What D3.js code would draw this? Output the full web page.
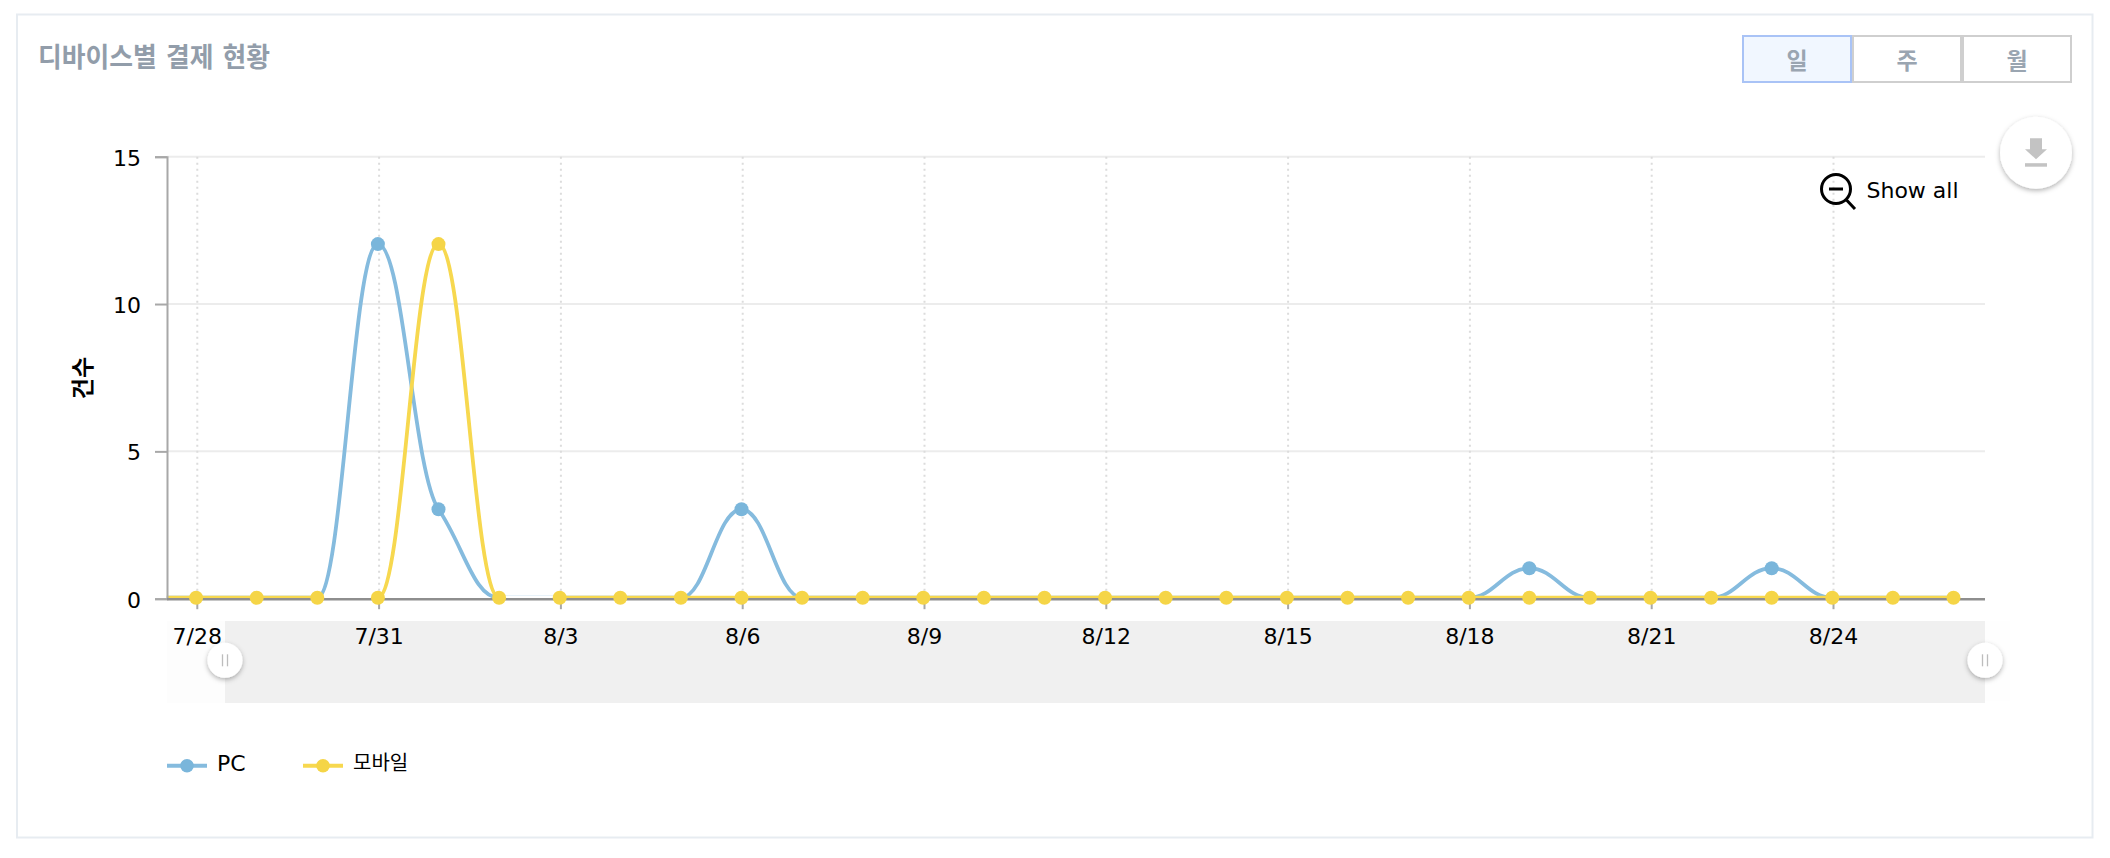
<!DOCTYPE html>
<html lang="ko">
<head>
<meta charset="utf-8">
<title>디바이스별 결제 현황</title>
<script src="https://cdn.jsdelivr.net/npm/d3@7/dist/d3.min.js"></script>
<style>
html,body{margin:0;padding:0;background:#fff;overflow:hidden}
svg{display:block;font-family:"DejaVu Sans","Noto Sans CJK KR",sans-serif}
</style>
</head>
<body>
<svg id="chart" width="2110" height="858"></svg>
<script>
// ---- data ----
const dates = ["7/28","7/29","7/30","7/31","8/1","8/2","8/3","8/4","8/5","8/6","8/7","8/8","8/9","8/10","8/11","8/12","8/13","8/14","8/15","8/16","8/17","8/18","8/19","8/20","8/21","8/22","8/23","8/24","8/25","8/26"];
const pcValues     = [0,0,0,12,3,0,0,0,0,3,0,0,0,0,0,0,0,0,0,0,0,0,1,0,0,0,1,0,0,0];
const mobileValues = [0,0,0,0,12,0,0,0,0,0,0,0,0,0,0,0,0,0,0,0,0,0,0,0,0,0,0,0,0,0];
const xTickLabels = ["7/28","7/31","8/3","8/6","8/9","8/12","8/15","8/18","8/21","8/24"];
const yTicks = [0,5,10,15];
const periodLabels = ["일","주","월"];
const seriesNames = ["PC","모바일"];
const titleText = "디바이스별 결제 현황";
const yTitle = "건수";
const showAllText = "Show all";

// ---- layout ----
const plot = {l:167,r:1985,t:156.7,b:598.7};
const blue = "#85bbde", blueDot = "#7ab6db", yellow = "#f7d84f", yellowDot = "#f5d547";
const svg = d3.select("#chart");

const x = d3.scaleBand().domain(dates).range([plot.l,plot.r]);
const xc = d => x(d)+x.bandwidth()/2;
const y = d3.scaleLinear().domain([0,15]).range([plot.b,plot.t]);

// defs
const defs = svg.append("defs");
const f1 = defs.append("filter").attr("id","sh").attr("x","-40%").attr("y","-40%").attr("width","180%").attr("height","180%");
f1.append("feDropShadow").attr("dx",0).attr("dy",2).attr("stdDeviation",2.4).attr("flood-color","#000").attr("flood-opacity",.3);

// card
svg.append("rect").attr("x",17).attr("y",14.5).attr("width",2075.5).attr("height",823)
  .attr("fill","#fff").attr("stroke","#e7ecf1").attr("stroke-width",2);

// title
svg.append("text").attr("x",38).attr("y",67).attr("font-size",27).attr("font-weight",700)
  .attr("fill","#929daa").attr("textLength",232).attr("lengthAdjust","spacingAndGlyphs").text(titleText);

// period buttons
periodLabels.forEach((p,i)=>{
  const cx = 1797+i*110, active = i===0;
  const g = svg.append("g").datum(p);
  g.append("rect").attr("x",cx-54).attr("y",36).attr("width",108).attr("height",46)
    .attr("fill",active?"#f1f7ff":"#fff").attr("stroke",active?"#a9c3f6":"#cfcfcf").attr("stroke-width",2);
  g.append("text").attr("x",cx).attr("y",69).attr("text-anchor","middle").attr("font-size",23).attr("font-weight",700)
    .attr("fill","#9aa5b1").text(p);
});

// scrollbar background
svg.append("rect").attr("x",plot.l).attr("y",621).attr("width",58).attr("height",82).attr("fill","#fdfdfd");
svg.append("rect").attr("x",plot.r).attr("y",621).attr("width",25).attr("height",80).attr("fill","#fefefe");
svg.append("rect").attr("x",225).attr("y",621).attr("width",plot.r-225).attr("height",82).attr("fill","#f0f0f0");

// gridlines
svg.append("g").selectAll("line").data(yTicks.filter(v=>v>0)).join("line")
  .attr("x1",plot.l).attr("x2",plot.r).attr("y1",y).attr("y2",y)
  .attr("stroke","#ececec").attr("stroke-width",2);
const tickDates = dates.filter(d=>xTickLabels.includes(d));
svg.append("g").selectAll("line").data(tickDates).join("line")
  .attr("x1",xc).attr("x2",xc).attr("y1",plot.t).attr("y2",plot.b)
  .attr("stroke","#dcdcdc").attr("stroke-width",2).attr("stroke-dasharray","2 4");

// smoothed line: horizontal tangent at turning points, otherwise the smaller neighbouring slope
function smoothPath(vals){
  const p = [[plot.l+1,y(vals[0])]].concat(vals.map((v,i)=>[xc(dates[i]),y(v)]));
  const sl = p.slice(0,-1).map((a,i)=>(p[i+1][1]-a[1])/(p[i+1][0]-a[0]));
  const tan = p.map((_,i)=>{
    if(i===0||i===p.length-1) return 0;
    const a=sl[i-1],b=sl[i];
    return a*b<=0?0:Math.sign(a)*Math.min(Math.abs(a),Math.abs(b));
  });
  const path = d3.path();
  path.moveTo(p[0][0],p[0][1]);
  for(let i=1;i<p.length;i++){
    const h=(p[i][0]-p[i-1][0])*0.42;
    path.bezierCurveTo(p[i-1][0]+h,p[i-1][1]+tan[i-1]*h,p[i][0]-h,p[i][1]-tan[i]*h,p[i][0],p[i][1]);
  }
  return path.toString();
}
const clipBlue = defs.append("clipPath").attr("id","clipBlue");
[["7/28","8/2",plot.t-20,plot.b+10],["8/2","8/3",plot.t-20,y(0)-2],["8/3","8/26",plot.t-20,plot.b+10]].forEach(([a,b,t,bot])=>{
  const x0 = a==="7/28"?plot.l:xc(a), x1 = xc(b);
  clipBlue.append("rect").attr("x",x0).attr("y",t).attr("width",x1-x0).attr("height",bot-t);
});
const clipYellow = defs.append("clipPath").attr("id","clipYellow");
[["7/28","7/30"],["7/31","8/2"],["8/3","8/26"]].forEach(([a,b])=>{
  const x0 = a==="7/28"?plot.l:xc(a), x1 = xc(b);
  clipYellow.append("rect").attr("x",x0).attr("y",plot.t-20).attr("width",x1-x0).attr("height",plot.b-plot.t+30);
});
const gSeries = svg.append("g").attr("transform","translate(-1.2,-1)");
gSeries.append("path").attr("d",smoothPath(pcValues)).attr("fill","none").attr("stroke",blue).attr("stroke-width",3.8).attr("clip-path","url(#clipBlue)");
gSeries.append("path").attr("d",smoothPath(mobileValues)).attr("fill","none").attr("stroke",yellow).attr("stroke-width",3.8).attr("clip-path","url(#clipYellow)");

// axes (above the lines)
const yAxis = d3.axisLeft(y).tickValues(yTicks).tickSize(12).tickPadding(14);
const gy = svg.append("g").attr("transform",`translate(${plot.l},0)`).call(yAxis).attr("font-family",null).attr("font-size",null);
gy.select(".domain").attr("stroke","#a8a8a8").attr("stroke-width",2);
gy.selectAll(".tick line").attr("stroke","#a8a8a8").attr("stroke-width",2);
gy.selectAll("text").attr("font-size",22).attr("fill","#000").attr("dy","0.38em");

const xAxis = d3.axisBottom(x).tickValues(tickDates).tickSize(10).tickPadding(19);
const gx = svg.append("g").attr("transform",`translate(0,${plot.b+0.5})`).call(xAxis).attr("font-family",null).attr("font-size",null);
gx.select(".domain").attr("stroke","#8e8e8e").attr("stroke-width",2.4).attr("d",`M${plot.l},0H${plot.r}`);
gx.selectAll(".tick line").attr("stroke","#a8a8a8").attr("stroke-width",2);
gx.selectAll("text").attr("font-size",22).attr("fill","#000").attr("dy","0.71em");

// markers on top of axis
const gDots = svg.append("g").attr("transform","translate(-1.2,-1)");
gDots.selectAll("circle.pc").data(pcValues.map((v,i)=>({v,d:dates[i]})).filter(d=>d.v>0)).join("circle").attr("class","pc")
  .attr("cx",d=>xc(d.d)).attr("cy",d=>y(d.v)).attr("r",7).attr("fill",blueDot);
gDots.selectAll("circle.mo").data(mobileValues.map((v,i)=>({v,d:dates[i]}))).join("circle").attr("class","mo")
  .attr("cx",d=>xc(d.d)).attr("cy",d=>y(d.v)).attr("r",7).attr("fill",yellowDot);

// y title
svg.append("text").attr("transform","translate(91,378) rotate(-90)").attr("text-anchor","middle")
  .attr("font-size",23).attr("font-weight",700).attr("fill","#000").text(yTitle);

// scrollbar handles
[225,plot.r].forEach(cx=>{
  const g = svg.append("g").attr("transform",`translate(${cx},660.3)`);
  g.append("circle").attr("r",17.5).attr("fill","#fff").attr("filter","url(#sh)");
  [-2.5,2.5].forEach(dx=>g.append("line").attr("x1",dx).attr("x2",dx).attr("y1",-6).attr("y2",6).attr("stroke","#bdbdbd").attr("stroke-width",1.3));
});

// legend
const legendX = [167,303];
seriesNames.forEach((n,i)=>{
  const g = svg.append("g").attr("transform",`translate(${legendX[i]},765.7)`);
  g.append("line").attr("x1",0).attr("x2",40).attr("stroke",i?yellow:blue).attr("stroke-width",4);
  g.append("circle").attr("cx",20).attr("r",6.8).attr("fill",i?yellowDot:blueDot);
  g.append("text").attr("x",50).attr("y",i?4:5).attr("font-size",i?20:22).attr("fill","#000").text(n);
});

// show all
const sa = svg.append("g");
sa.append("circle").attr("cx",1836).attr("cy",189).attr("r",14.5).attr("fill","none").attr("stroke","#000").attr("stroke-width",3);
sa.append("line").attr("x1",1829).attr("x2",1843).attr("y1",189).attr("y2",189).attr("stroke","#000").attr("stroke-width",3);
sa.append("line").attr("x1",1846.5).attr("x2",1855).attr("y1",200).attr("y2",209).attr("stroke","#000").attr("stroke-width",3);
sa.append("text").attr("x",1866.5).attr("y",198).attr("font-size",22).attr("fill","#000").text(showAllText);

// download button
const dl = svg.append("g").attr("transform","translate(2036,152.7)");
dl.append("circle").attr("r",36).attr("fill","#fff").attr("filter","url(#sh)");
dl.append("path").attr("d","M-6,-14.5H6V-3.5H11L0,6.5L-11,-3.5H-6Z").attr("fill","#c3c3c3");
dl.append("rect").attr("x",-11).attr("y",10.5).attr("width",22).attr("height",3.5).attr("fill","#c3c3c3");
</script>
</body>
</html>
